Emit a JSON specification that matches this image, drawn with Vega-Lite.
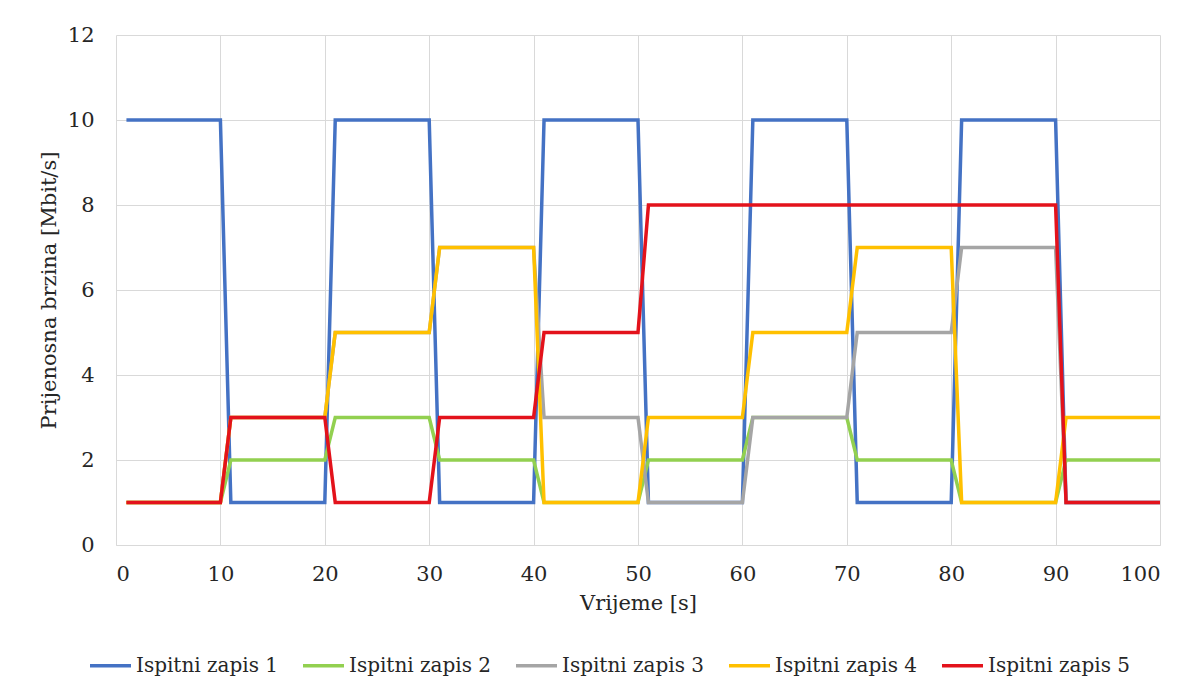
{
  "$schema": "https://vega.github.io/schema/vega-lite/v6.json",
  "width": 1044,
  "height": 510,
  "autosize": {"type": "none"},
  "padding": {"left": 116, "top": 35, "right": 38, "bottom": 150},
  "background": "white",
  "config": {
    "view": {"stroke": null},
    "font": "DejaVu Serif",
    "axis": {"labelFont": "DejaVu Serif", "titleFont": "DejaVu Serif", "labelColor": "#262626", "titleColor": "#262626", "titleFontWeight": "normal", "labelFontSize": 21, "titleFontSize": 21},
    "legend": {"labelFont": "DejaVu Serif", "labelColor": "#262626", "labelFontSize": 20}
  },
  "data": {
    "values": [
      {"serija": "Ispitni zapis 1", "t": 1, "v": 10}, {"serija": "Ispitni zapis 1", "t": 10, "v": 10},
      {"serija": "Ispitni zapis 1", "t": 11, "v": 1}, {"serija": "Ispitni zapis 1", "t": 20, "v": 1},
      {"serija": "Ispitni zapis 1", "t": 21, "v": 10}, {"serija": "Ispitni zapis 1", "t": 30, "v": 10},
      {"serija": "Ispitni zapis 1", "t": 31, "v": 1}, {"serija": "Ispitni zapis 1", "t": 40, "v": 1},
      {"serija": "Ispitni zapis 1", "t": 41, "v": 10}, {"serija": "Ispitni zapis 1", "t": 50, "v": 10},
      {"serija": "Ispitni zapis 1", "t": 51, "v": 1}, {"serija": "Ispitni zapis 1", "t": 60, "v": 1},
      {"serija": "Ispitni zapis 1", "t": 61, "v": 10}, {"serija": "Ispitni zapis 1", "t": 70, "v": 10},
      {"serija": "Ispitni zapis 1", "t": 71, "v": 1}, {"serija": "Ispitni zapis 1", "t": 80, "v": 1},
      {"serija": "Ispitni zapis 1", "t": 81, "v": 10}, {"serija": "Ispitni zapis 1", "t": 90, "v": 10},
      {"serija": "Ispitni zapis 1", "t": 91, "v": 1}, {"serija": "Ispitni zapis 1", "t": 100, "v": 1},

      {"serija": "Ispitni zapis 2", "t": 1, "v": 1}, {"serija": "Ispitni zapis 2", "t": 10, "v": 1},
      {"serija": "Ispitni zapis 2", "t": 11, "v": 2}, {"serija": "Ispitni zapis 2", "t": 20, "v": 2},
      {"serija": "Ispitni zapis 2", "t": 21, "v": 3}, {"serija": "Ispitni zapis 2", "t": 30, "v": 3},
      {"serija": "Ispitni zapis 2", "t": 31, "v": 2}, {"serija": "Ispitni zapis 2", "t": 40, "v": 2},
      {"serija": "Ispitni zapis 2", "t": 41, "v": 1}, {"serija": "Ispitni zapis 2", "t": 50, "v": 1},
      {"serija": "Ispitni zapis 2", "t": 51, "v": 2}, {"serija": "Ispitni zapis 2", "t": 60, "v": 2},
      {"serija": "Ispitni zapis 2", "t": 61, "v": 3}, {"serija": "Ispitni zapis 2", "t": 70, "v": 3},
      {"serija": "Ispitni zapis 2", "t": 71, "v": 2}, {"serija": "Ispitni zapis 2", "t": 80, "v": 2},
      {"serija": "Ispitni zapis 2", "t": 81, "v": 1}, {"serija": "Ispitni zapis 2", "t": 90, "v": 1},
      {"serija": "Ispitni zapis 2", "t": 91, "v": 2}, {"serija": "Ispitni zapis 2", "t": 100, "v": 2},

      {"serija": "Ispitni zapis 3", "t": 1, "v": 1}, {"serija": "Ispitni zapis 3", "t": 10, "v": 1},
      {"serija": "Ispitni zapis 3", "t": 11, "v": 3}, {"serija": "Ispitni zapis 3", "t": 20, "v": 3},
      {"serija": "Ispitni zapis 3", "t": 21, "v": 5}, {"serija": "Ispitni zapis 3", "t": 30, "v": 5},
      {"serija": "Ispitni zapis 3", "t": 31, "v": 7}, {"serija": "Ispitni zapis 3", "t": 40, "v": 7},
      {"serija": "Ispitni zapis 3", "t": 41, "v": 3}, {"serija": "Ispitni zapis 3", "t": 50, "v": 3},
      {"serija": "Ispitni zapis 3", "t": 51, "v": 1}, {"serija": "Ispitni zapis 3", "t": 60, "v": 1},
      {"serija": "Ispitni zapis 3", "t": 61, "v": 3}, {"serija": "Ispitni zapis 3", "t": 70, "v": 3},
      {"serija": "Ispitni zapis 3", "t": 71, "v": 5}, {"serija": "Ispitni zapis 3", "t": 80, "v": 5},
      {"serija": "Ispitni zapis 3", "t": 81, "v": 7}, {"serija": "Ispitni zapis 3", "t": 90, "v": 7},
      {"serija": "Ispitni zapis 3", "t": 91, "v": 1}, {"serija": "Ispitni zapis 3", "t": 100, "v": 1},

      {"serija": "Ispitni zapis 4", "t": 1, "v": 1}, {"serija": "Ispitni zapis 4", "t": 10, "v": 1},
      {"serija": "Ispitni zapis 4", "t": 11, "v": 3}, {"serija": "Ispitni zapis 4", "t": 20, "v": 3},
      {"serija": "Ispitni zapis 4", "t": 21, "v": 5}, {"serija": "Ispitni zapis 4", "t": 30, "v": 5},
      {"serija": "Ispitni zapis 4", "t": 31, "v": 7}, {"serija": "Ispitni zapis 4", "t": 40, "v": 7},
      {"serija": "Ispitni zapis 4", "t": 41, "v": 1}, {"serija": "Ispitni zapis 4", "t": 50, "v": 1},
      {"serija": "Ispitni zapis 4", "t": 51, "v": 3}, {"serija": "Ispitni zapis 4", "t": 60, "v": 3},
      {"serija": "Ispitni zapis 4", "t": 61, "v": 5}, {"serija": "Ispitni zapis 4", "t": 70, "v": 5},
      {"serija": "Ispitni zapis 4", "t": 71, "v": 7}, {"serija": "Ispitni zapis 4", "t": 80, "v": 7},
      {"serija": "Ispitni zapis 4", "t": 81, "v": 1}, {"serija": "Ispitni zapis 4", "t": 90, "v": 1},
      {"serija": "Ispitni zapis 4", "t": 91, "v": 3}, {"serija": "Ispitni zapis 4", "t": 100, "v": 3},

      {"serija": "Ispitni zapis 5", "t": 1, "v": 1}, {"serija": "Ispitni zapis 5", "t": 10, "v": 1},
      {"serija": "Ispitni zapis 5", "t": 11, "v": 3}, {"serija": "Ispitni zapis 5", "t": 20, "v": 3},
      {"serija": "Ispitni zapis 5", "t": 21, "v": 1}, {"serija": "Ispitni zapis 5", "t": 30, "v": 1},
      {"serija": "Ispitni zapis 5", "t": 31, "v": 3}, {"serija": "Ispitni zapis 5", "t": 40, "v": 3},
      {"serija": "Ispitni zapis 5", "t": 41, "v": 5}, {"serija": "Ispitni zapis 5", "t": 50, "v": 5},
      {"serija": "Ispitni zapis 5", "t": 51, "v": 8}, {"serija": "Ispitni zapis 5", "t": 60, "v": 8},
      {"serija": "Ispitni zapis 5", "t": 61, "v": 8}, {"serija": "Ispitni zapis 5", "t": 70, "v": 8},
      {"serija": "Ispitni zapis 5", "t": 71, "v": 8}, {"serija": "Ispitni zapis 5", "t": 80, "v": 8},
      {"serija": "Ispitni zapis 5", "t": 81, "v": 8}, {"serija": "Ispitni zapis 5", "t": 90, "v": 8},
      {"serija": "Ispitni zapis 5", "t": 91, "v": 1}, {"serija": "Ispitni zapis 5", "t": 100, "v": 1}
    ]
  },
  "mark": {"type": "line", "strokeWidth": 3.5},
  "encoding": {
    "x": {
      "field": "t", "type": "quantitative",
      "scale": {"domain": [0, 100], "nice": false},
      "axis": {
        "values": [0, 10, 20, 30, 40, 50, 60, 70, 80, 90, 100],
        "title": "Vrijeme [s]",
        "grid": true, "gridColor": "#d9d9d9", "gridWidth": 1,
        "domainColor": "#d9d9d9", "domainWidth": 1,
        "ticks": false,
        "labelPadding": 18,
        "titlePadding": 8
      }
    },
    "y": {
      "field": "v", "type": "quantitative",
      "scale": {"domain": [0, 12], "nice": false},
      "axis": {
        "values": [0, 2, 4, 6, 8, 10, 12],
        "title": "Prijenosna brzina [Mbit/s]",
        "grid": true, "gridColor": "#d9d9d9", "gridWidth": 1,
        "domain": false,
        "ticks": false,
        "labelPadding": 22,
        "titlePadding": 8
      }
    },
    "color": {
      "field": "serija", "type": "nominal",
      "scale": {
        "domain": ["Ispitni zapis 1", "Ispitni zapis 2", "Ispitni zapis 3", "Ispitni zapis 4", "Ispitni zapis 5"],
        "range": ["#4472C4", "#92D050", "#A5A5A5", "#FFC000", "#E3121B"]
      },
      "legend": {
        "title": null,
        "orient": "none",
        "direction": "horizontal",
        "columns": 5,
        "legendX": -28,
        "legendY": 608,
        "padding": 0,
        "symbolType": "stroke",
        "symbolSize": 1681,
        "symbolStrokeWidth": 3.5,
        "labelOffset": 3,
        "columnPadding": 17
      }
    }
  }
}
